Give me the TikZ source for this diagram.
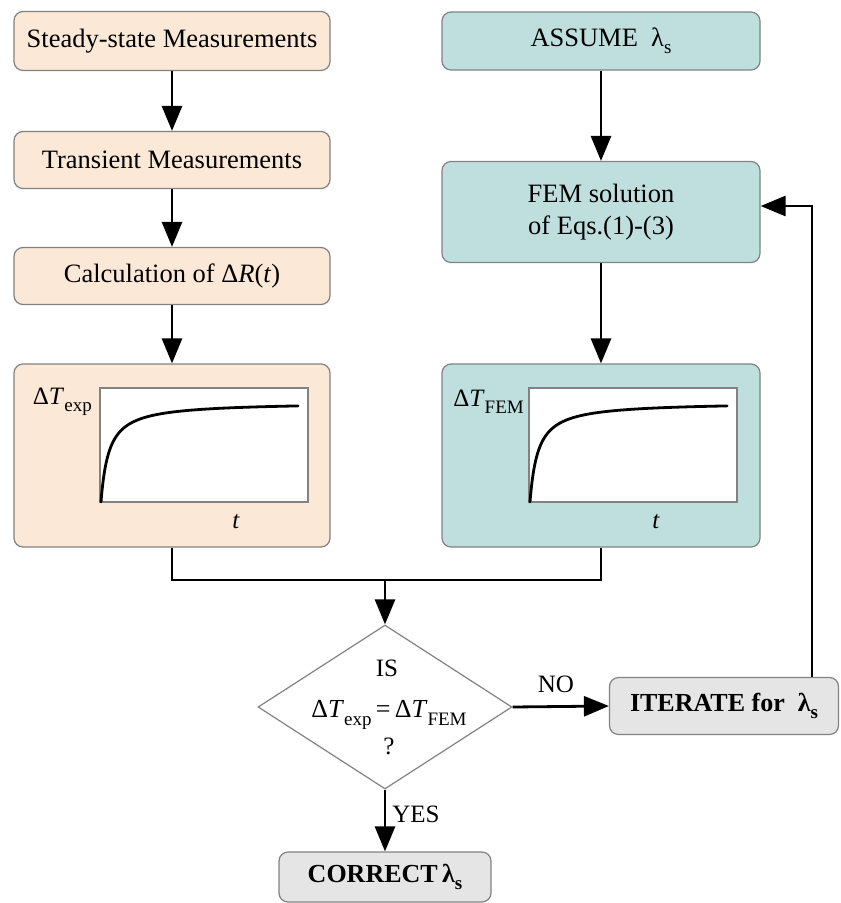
\documentclass[tikz,border=0pt]{standalone}
\usepackage{fontspec}
\setmainfont{Liberation Serif}
\usetikzlibrary{shapes.geometric,arrows.meta,calc}
\definecolor{peach}{RGB}{252,232,214}
\definecolor{tealf}{RGB}{191,223,222}
\definecolor{grayf}{RGB}{229,229,229}
\definecolor{bord}{RGB}{130,130,130}
\newcommand{\mysub}[1]{\raisebox{-0.28em}{\fontsize{19}{19}\selectfont #1}}
\newcommand{\lams}{λ\mysub{s}}
\begin{document}
\begin{tikzpicture}[x=1pt,y=-1pt,
  box/.style={draw=bord, line width=1.2pt, rounded corners=9pt, inner sep=0pt,
    font=\fontsize{26.5}{32}\selectfont, align=center},
  lbox/.style={box, fill=peach, minimum width=316pt},
  rbox/.style={box, fill=tealf, minimum width=318pt},
  gbox/.style={box, fill=grayf, font=\fontsize{26}{31}\selectfont\bfseries},
  arr/.style={line width=2.8pt, -{Triangle[length=25pt,width=20pt]}},
  ln/.style={line width=2.8pt},
  lbl/.style={font=\fontsize{25}{30}\selectfont, inner sep=0pt},
  plotbox/.style={draw=bord, line width=1.2pt, fill=white},
  curve/.style={line width=2.8pt, line cap=round}
]
\path[use as bounding box, fill=white] (0,0) rectangle (841,903);

% left column
\node[lbox, minimum height=59pt] (s1) at (172,41) {Steady-state Measurements};
\node[lbox, minimum height=57pt] (s2) at (172,160) {Transient Measurements};
\node[lbox, minimum height=57pt] (s3) at (172,276) {Calculation of Δ\textit{R}(\textit{t})};
\node[lbox, minimum height=183pt] (p1) at (172,455.5) {};

% right column
\node[rbox, minimum height=58pt] (a1) at (601,41) {ASSUME\ \ \lams};
\node[rbox, minimum height=101pt] (a2) at (601,212) {FEM solution\\of Eqs.(1)-(3)};
\node[rbox, minimum height=183pt] (p2) at (601,455.5) {};

% plots
\draw[plotbox] (100,388) rectangle (308,502);
\draw[curve] plot[domain=0:14.04, samples=120, smooth] ({101+\x*\x}, {502-100*(\x*\x/(\x*\x+8))});
\node[lbl, anchor=east] (l1) at (92,402) {Δ\textit{T}\mysub{exp}};
\node[lbl] (t1) at (236,522) {\textit{t}};

\draw[plotbox] (529,388) rectangle (737,502);
\draw[curve] plot[domain=0:14.04, samples=120, smooth] ({530+\x*\x}, {502-100*(\x*\x/(\x*\x+8))});
\node[lbl, anchor=east] (l2) at (524,402) {Δ\textit{T}\mysub{FEM}};
\node[lbl] (t2) at (656,522) {\textit{t}};

% decision
\node[diamond, draw=bord, line width=1.2pt, fill=white, minimum width=254pt, minimum height=164pt, inner sep=0pt] (d) at (385,707) {};
\node[lbl] (q1) at (387,668) {IS};
\node[lbl, font=\fontsize{26}{30}\selectfont] (q2) at (389,715) {Δ\textit{T}\mysub{exp}\,=\,Δ\textit{T}\mysub{FEM}};
\node[lbl] (q3) at (389,746) {?};

\node[gbox, minimum width=229pt, minimum height=57pt] (it) at (724,706) {ITERATE for\ \ \lams};
\node[gbox, minimum width=212pt, minimum height=50pt] (co) at (385,877) {CORRECT\,\lams};

% connectors
\draw[arr] (s1.south) -- (s2.north);
\draw[arr] (s2.south) -- (s3.north);
\draw[arr] (s3.south) -- (p1.north);
\draw[arr] (a1.south) -- (a2.north);
\draw[arr] (a2.south) -- (p2.north);

\coordinate (m) at (385,580);
\draw[ln] (p1.south) |- (m);
\draw[ln] (p2.south) |- (m);
\draw[arr] (m) -- (d.north);

\draw[arr] (d.east) -- (it.west) node[lbl, pos=0.45, above=12pt] (no) {NO};
\draw[arr] (d.south) -- (co.north) node[lbl, pos=0.4, right=6pt] (yes) {YES};

\coordinate (ret) at (812,206);
\draw[arr] (it.north -| ret) -- (ret) -- (ret -| a2.east);
\end{tikzpicture}
\end{document}
